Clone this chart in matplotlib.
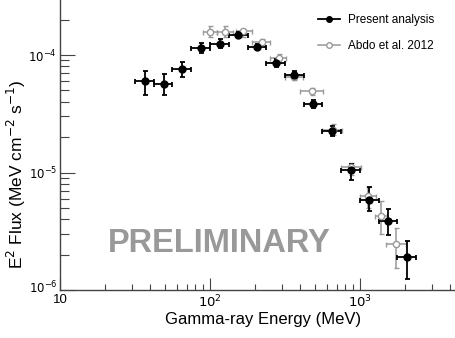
import numpy as np
import matplotlib.pyplot as plt
import matplotlib.transforms as mtransforms
from matplotlib.lines import Line2D
from matplotlib.ticker import LogLocator, NullFormatter, FixedLocator, FixedFormatter

plt.rcParams['font.family'] = ['Liberation Sans', 'DejaVu Sans']

# Present analysis: energy bins (MeV) and E^2 flux (MeV cm^-2 s^-1)
e_ctr = [37, 49, 65, 87, 116, 154, 205, 274, 365, 487, 649, 866, 1155, 1540, 2054]
e_lo = [31.6, 42.2, 56.2, 75.0, 100, 133, 178, 237, 316, 422, 562, 750, 1000, 1334, 1778]
e_hi = [42.2, 56.2, 75.0, 100, 133, 178, 237, 316, 422, 562, 750, 1000, 1334, 1778, 2371]
flux = [5.95e-5, 5.65e-5, 7.57e-5, 1.14e-4, 1.25e-4, 1.49e-4, 1.16e-4, 8.6e-5, 6.78e-5,
        3.85e-5, 2.26e-5, 1.04e-5, 5.89e-6, 3.86e-6, 1.9e-6]
flux_hi = [7.3e-5, 6.92e-5, 8.74e-5, 1.27e-4, 1.375e-4, 1.56e-4, 1.245e-4, 9.16e-5, 7.24e-5,
           4.18e-5, 2.51e-5, 1.19e-5, 7.55e-6, 4.9e-6, 2.61e-6]
flux_lo = [4.55e-5, 4.55e-5, 6.46e-5, 1.03e-4, 1.15e-4, 1.42e-4, 1.1e-4, 7.98e-5, 6.35e-5,
           3.56e-5, 2.04e-5, 8.7e-6, 4.68e-6, 2.91e-6, 1.23e-6]

# Abdo et al. 2012
a_ctr = [100, 126, 167, 222, 288, 363, 476, 658, 875, 1135, 1380, 1746]
a_lo = [89.7, 112, 149, 191, 252, 316, 400, 558, 743, 1000, 1259, 1489]
a_hi = [112, 142, 191, 252, 321, 417, 569, 759, 1009, 1288, 1514, 2028]
a_flux = [1.57e-4, 1.57e-4, 1.6e-4, 1.29e-4, 9.4e-5, 6.5e-5, 4.95e-5, 2.32e-5, 1.12e-5,
          6.3e-6, 4.3e-6, 2.44e-6]
a_flux_hi = [1.75e-4, 1.75e-4, 1.67e-4, 1.36e-4, 1.02e-4, 6.9e-5, 5.25e-5, 2.58e-5, 1.21e-5,
             7.55e-6, 5.75e-6, 3.34e-6]
a_flux_lo = [1.43e-4, 1.43e-4, 1.42e-4, 1.19e-4, 8.6e-5, 6.1e-5, 4.6e-5, 2.07e-5, 9.6e-6,
             5.0e-6, 3.0e-6, 1.55e-6]


def errs(ctr, lo, hi):
    ctr = np.array(ctr)
    return [ctr - np.array(lo), np.array(hi) - ctr]


fig = plt.figure(figsize=(4.56, 3.38), dpi=100)
ax = fig.add_axes([60 / 456, 48 / 338, 396 / 456, 290 / 338])

gray = '#999999'
ax.errorbar(a_ctr, a_flux, xerr=errs(a_ctr, a_lo, a_hi), yerr=errs(a_flux, a_flux_lo, a_flux_hi),
            fmt='o', color=gray, mfc='white', mec=gray, ms=4.5, mew=1.0, elinewidth=1.1,
            capsize=1.8, capthick=1.1)
ax.errorbar(e_ctr, flux, xerr=errs(e_ctr, e_lo, e_hi), yerr=errs(flux, flux_lo, flux_hi),
            fmt='o', color='black', ms=5, elinewidth=1.3, capsize=1.8, capthick=1.3)

ax.set_xscale('log')
ax.set_yscale('log')
ax.set_xlim(10, 10 ** (1 + 396 / 150))
ax.set_ylim(1e-6, 10 ** (-6 + 290 / 117.5))

for s in ['top', 'right']:
    ax.spines[s].set_visible(False)
for s in ['left', 'bottom']:
    ax.spines[s].set_color('#444444')
    ax.spines[s].set_linewidth(1.0)

ax.xaxis.set_major_locator(FixedLocator([10, 100, 1000]))
ax.xaxis.set_major_formatter(FixedFormatter(['10', r'$10^2$', r'$10^3$']))
ax.xaxis.set_minor_locator(LogLocator(base=10, subs=np.arange(2, 10), numticks=20))
ax.xaxis.set_minor_formatter(NullFormatter())
ax.yaxis.set_major_locator(FixedLocator([1e-6, 1e-5, 1e-4]))
ax.yaxis.set_major_formatter(FixedFormatter([r'$10^{-6}$', r'$10^{-5}$', r'$10^{-4}$']))
ax.yaxis.set_minor_locator(LogLocator(base=10, subs=np.arange(2, 10), numticks=20))
ax.yaxis.set_minor_formatter(NullFormatter())

ax.tick_params(axis='x', which='major', direction='in', length=9, width=0.8, labelsize=9.5, pad=3, color='#444444')
ax.tick_params(axis='x', which='minor', direction='in', length=4.5, width=0.8, color='#444444')
ax.tick_params(axis='y', which='major', direction='in', length=11, width=0.8, labelsize=8.5, pad=2, color='#444444')
ax.tick_params(axis='y', which='minor', direction='in', length=6.5, width=0.8, color='#444444')

# lift the 10^-6 label a little so it clears the "10" below it
lbl = ax.yaxis.get_majorticklabels()[0]
lbl.set_transform(lbl.get_transform() + mtransforms.ScaledTranslation(0, 3 / 100, fig.dpi_scale_trans))

ax.set_xlabel('Gamma-ray Energy (MeV)', fontsize=12)
ax.xaxis.set_label_coords(0.513, -0.076)
ax.set_ylabel(r'E$^2$ Flux (MeV cm$^{-2}$ s$^{-1}$)', fontsize=12.5)
ax.yaxis.set_label_coords(-0.08, 0.40)

fig.text(219 / 456, 1 - 243 / 338, 'PRELIMINARY', color=gray, fontsize=23.5, fontweight='bold',
         ha='center', va='center')

handles = [Line2D([], [], color='black', marker='o', ms=4, lw=1.3),
           Line2D([], [], color=gray, marker='o', ms=4, mfc='white', lw=1.1)]
labels = ['Present analysis', 'Abdo et al. 2012']
fig.legend(handles, labels, loc='upper left', bbox_to_anchor=(318 / 456, 1 - 14 / 338),
           frameon=False, fontsize=8.5, handlelength=1.9, handletextpad=0.6, labelspacing=1.2,
           borderpad=0, borderaxespad=0)

fig.savefig('out.png', dpi=100)
